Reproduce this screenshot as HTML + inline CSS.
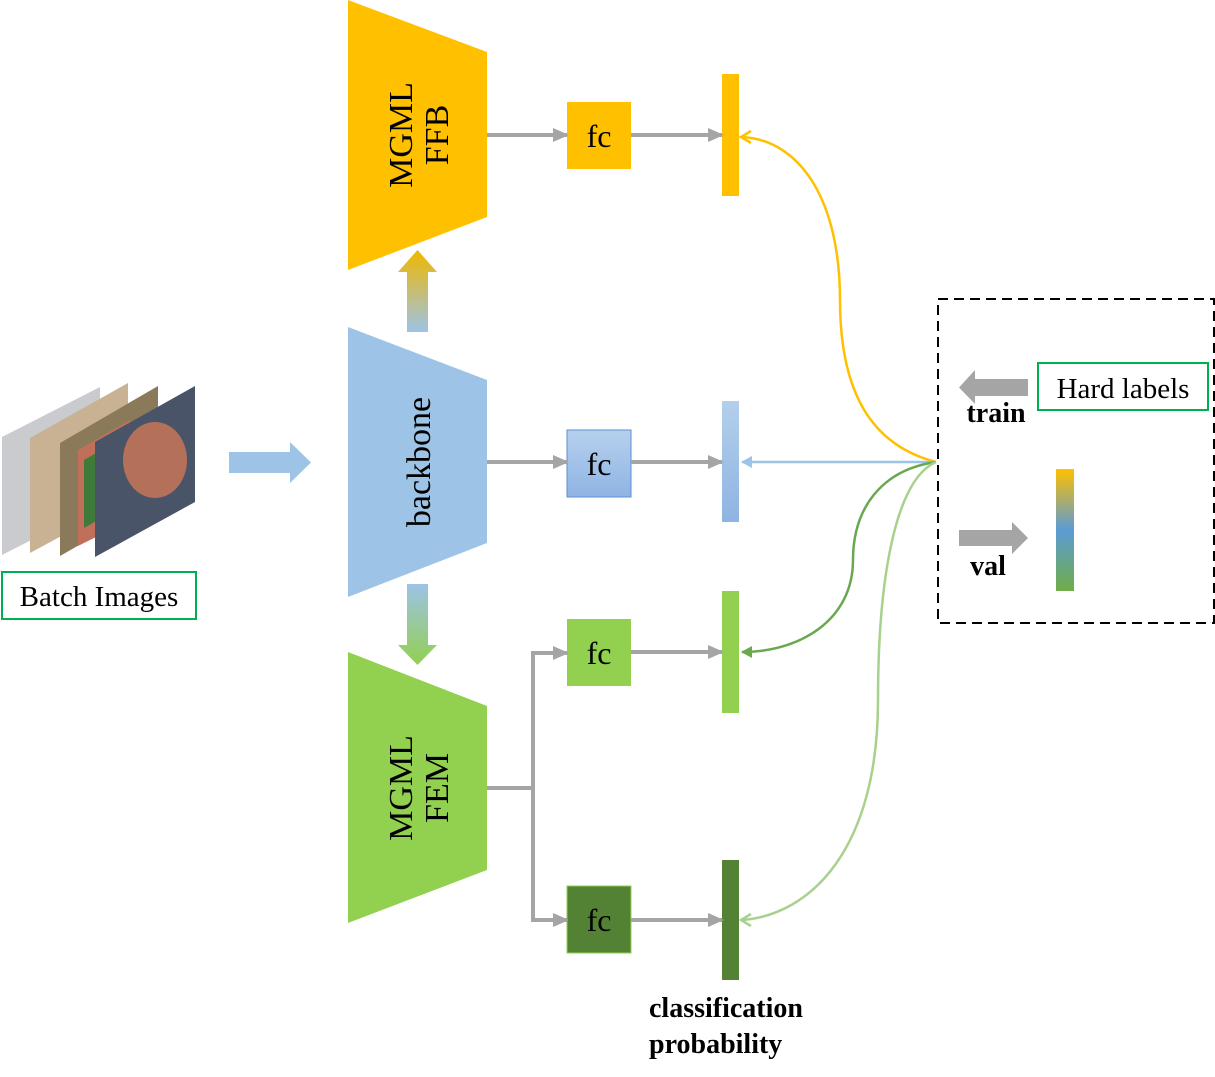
<!DOCTYPE html>
<html><head><meta charset="utf-8"><style>body{margin:0;background:#fff}svg{display:block}text{font-family:"Liberation Serif",serif}</style></head>
<body>
<svg width="1215" height="1077" viewBox="0 0 1215 1077" xmlns="http://www.w3.org/2000/svg">
<defs>
<linearGradient id="gU" x1="0" y1="1" x2="0" y2="0"><stop offset="0" stop-color="#9dc3e6"/><stop offset="1" stop-color="#f0b800"/></linearGradient>
<linearGradient id="gD" x1="0" y1="0" x2="0" y2="1"><stop offset="0" stop-color="#9dc3e6"/><stop offset="1" stop-color="#92d050"/></linearGradient>
<linearGradient id="gB" x1="0" y1="0" x2="0" y2="1"><stop offset="0" stop-color="#b4cfeb"/><stop offset="1" stop-color="#8db4e2"/></linearGradient>
<linearGradient id="gF" x1="0" y1="0" x2="0" y2="1"><stop offset="0" stop-color="#b7d0ee"/><stop offset="1" stop-color="#8eb4e3"/></linearGradient>
<linearGradient id="gV" x1="0" y1="0" x2="0" y2="1"><stop offset="0" stop-color="#ffc000"/><stop offset="0.5" stop-color="#5b9bd5"/><stop offset="1" stop-color="#70ad47"/></linearGradient>
<marker id="ag" markerWidth="16" markerHeight="14" refX="14" refY="7" orient="auto" markerUnits="userSpaceOnUse"><path d="M0,0 L16,7 L0,14z" fill="#a5a5a5"/></marker>
</defs>
<polygon points="2,437 100,387 100,505 2,555" fill="#c9cbcf"/>
<polygon points="30,438 128,383 128,500 30,553" fill="#c8b293"/>
<polygon points="60,443 158,386 158,500 60,556" fill="#8a7a5a"/>
<polygon points="78,450 130,420 130,520 78,546" fill="#c0705a"/>
<polygon points="84,460 98,452 98,520 84,528" fill="#3f7a3a"/>
<polygon points="95,442 195,386 195,502 95,557" fill="#4a5468"/>
<ellipse cx="155" cy="460" rx="32" ry="38" fill="#b5705a"/>
<rect x="2" y="572" width="194" height="47" fill="none" stroke="#00b050" stroke-width="2"/>
<text x="99" y="606" font-size="29" text-anchor="middle">Batch Images</text>
<polygon points="229,452 290,452 290,442 311,462.5 290,483 290,473 229,473" fill="#9dc3e6"/>
<polygon points="348,0 487,52 487,217 348,270" fill="#ffc000"/>
<polygon points="348,327 487,380 487,543 348,597" fill="#9dc3e6"/>
<polygon points="348,652 487,706 487,870 348,923" fill="#92d050"/>
<text transform="translate(418,135) rotate(-90)" font-size="34" text-anchor="middle"><tspan x="0" dy="-6">MGML</tspan><tspan x="0" dy="36">FFB</tspan></text>
<text transform="translate(430,462) rotate(-90)" font-size="34" text-anchor="middle">backbone</text>
<text transform="translate(418,788) rotate(-90)" font-size="34" text-anchor="middle"><tspan x="0" dy="-6">MGML</tspan><tspan x="0" dy="36">FEM</tspan></text>
<polygon points="407,332 428,332 428,272 437,272 417.5,250 398,272 407,272" fill="url(#gU)"/>
<polygon points="407,584 428,584 428,645 437,645 417.5,665 398,645 407,645" fill="url(#gD)"/>
<rect x="567" y="102" width="64" height="67" fill="#ffc000"/>
<rect x="567" y="430" width="64" height="67" fill="url(#gF)" stroke="#5b8fd0" stroke-width="1"/>
<rect x="567" y="619" width="64" height="67" fill="#92d050"/>
<rect x="567" y="886" width="64" height="67" fill="#548235" stroke="#92d050" stroke-width="1"/>
<g font-size="32" text-anchor="middle"><text x="599" y="147">fc</text><text x="599" y="475">fc</text><text x="599" y="664">fc</text><text x="599" y="931">fc</text></g>
<rect x="722" y="74" width="17" height="122" fill="#ffc000"/>
<rect x="722" y="401" width="17" height="121" fill="url(#gB)"/>
<rect x="722" y="591" width="17" height="122" fill="#92d050"/>
<rect x="722" y="860" width="17" height="120" fill="#548235"/>
<g stroke="#a5a5a5" stroke-width="4" fill="none" marker-end="url(#ag)">
<line x1="487" y1="135" x2="567" y2="135"/><line x1="631" y1="135" x2="722" y2="135"/>
<line x1="487" y1="462" x2="567" y2="462"/><line x1="631" y1="462" x2="722" y2="462"/>
<line x1="631" y1="652" x2="722" y2="652"/><line x1="631" y1="920" x2="722" y2="920"/>
<polyline points="533,788 533,653 567,653"/><polyline points="533,788 533,920 567,920"/>
</g>
<line x1="487" y1="788" x2="535" y2="788" stroke="#a5a5a5" stroke-width="4"/>
<path d="M936,462 C870,445 840,390 840,300 C840,200 800,140 742,137" stroke="#ffc000" stroke-width="2.5" fill="none"/>
<path d="M751,131 L741,137 L751,143" stroke="#ffc000" stroke-width="2.5" fill="none"/>
<line x1="936" y1="462" x2="742" y2="462" stroke="#9dc3e6" stroke-width="2.5"/>
<path d="M752,456 L741,462 L752,468z" fill="#9dc3e6"/>
<path d="M936,462 C880,470 853,510 853,560 C853,620 800,652 742,652" stroke="#6aa84f" stroke-width="2.5" fill="none"/>
<path d="M752,646 L741,652 L752,658z" fill="#6aa84f"/>
<path d="M936,462 C895,480 878,580 878,700 C878,850 810,915 742,920" stroke="#a9d18e" stroke-width="2.5" fill="none"/>
<path d="M751,914 L741,920 L751,926" stroke="#a9d18e" stroke-width="2.5" fill="none"/>
<rect x="938" y="299" width="276" height="324" fill="none" stroke="#000" stroke-width="2" stroke-dasharray="10,6"/>
<rect x="1038" y="363" width="170" height="47" fill="none" stroke="#00b050" stroke-width="2"/>
<text x="1123" y="398" font-size="29" text-anchor="middle">Hard labels</text>
<polygon points="1028,379 1028,396 975,396 975,404 959,387.5 975,370 975,379" fill="#a5a5a5"/>
<text x="996" y="422" font-size="28" font-weight="bold" text-anchor="middle">train</text>
<polygon points="959,530 1012,530 1012,522 1028,538 1012,554 1012,546 959,546" fill="#a5a5a5"/>
<text x="988" y="575" font-size="28" font-weight="bold" text-anchor="middle">val</text>
<rect x="1056" y="469" width="18" height="122" fill="url(#gV)"/>
<text x="649" y="1017" font-size="28" font-weight="bold">classification</text>
<text x="649" y="1053" font-size="28" font-weight="bold">probability</text>
</svg>
</body></html>
